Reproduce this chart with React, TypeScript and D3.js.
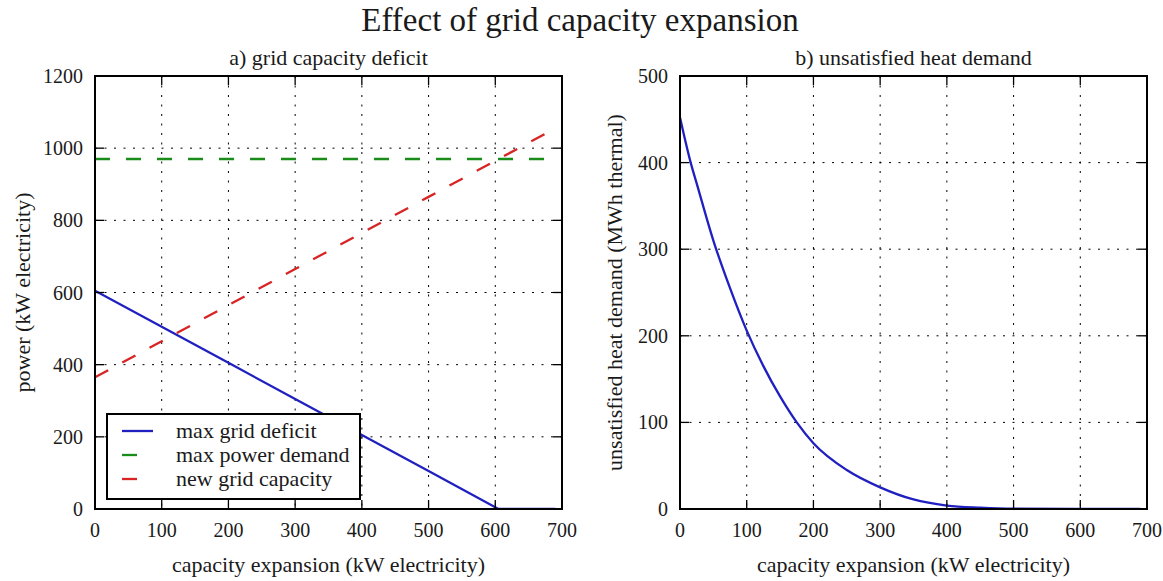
import React from "react";
import * as d3 from "d3";

// ---- data ----
const xTicks = [0, 100, 200, 300, 400, 500, 600, 700];
const powerTicks = [0, 200, 400, 600, 800, 1000, 1200];
const heatTicks = [0, 100, 200, 300, 400, 500];

const deficitX = [0, 100, 200, 300, 400, 500, 600, 605, 690];
const maxGridDeficit = [605, 505, 405, 305, 205, 105, 5, 0, 0];

const demandX = [0, 690];
const maxPowerDemand = [970, 970];

const capacityX = [0, 100, 200, 300, 400, 500, 600, 690];
const newGridCapacity = [365, 465, 565, 665, 765, 865, 965, 1055];

const heatX = [0, 16, 25, 50, 75, 100, 125, 150, 175, 200, 250, 300, 350, 400, 450, 500, 600, 690];
const unsatisfiedHeat = [452, 400, 376, 310, 255, 206, 165, 130, 100, 76, 45, 25, 11, 4, 1.5, 0.3, 0, 0];

const legendLabels = ["max grid deficit", "max power demand", "new grid capacity"];

// ---- styling ----
const W = 1163;
const H = 581;
const FONT = "'Liberation Serif', 'Times New Roman', serif";
const BLUE = "#2020c0";
const GREEN = "#1a8c1a";
const RED = "#d82424";
const DASH = "15 16";
const GRID_DASH = "2 7.5";
const TOP = 76;
const BOTTOM = 509;
const TEXT = "#1a1a1a";

type Series = { xs: number[]; ys: number[]; color: string; dash?: string; smooth?: boolean };

function Panel(props: {
  left: number;
  right: number;
  yMax: number;
  yTicks: number[];
  title: string;
  yLabel: string;
  yLabelX: number;
  series: Series[];
  legend?: boolean;
}) {
  const { left, right, yMax, yTicks, title, yLabel, yLabelX, series, legend } = props;
  const x = d3.scaleLinear().domain([0, 700]).range([left, right]);
  const y = d3.scaleLinear().domain([0, yMax]).range([BOTTOM, TOP]);
  const tickLen = 9;
  const clipId = `clip-${left}`;

  return (
    <g>
      <defs>
        <clipPath id={clipId}>
          <rect x={left} y={TOP} width={right - left} height={BOTTOM - TOP} />
        </clipPath>
      </defs>
      {/* grid */}
      <g stroke="#000" strokeWidth={1} strokeDasharray={GRID_DASH}>
        {xTicks.slice(1, -1).map((t) => (
          <line key={`gx${t}`} x1={x(t)} x2={x(t)} y1={TOP} y2={BOTTOM} />
        ))}
        {yTicks.slice(1, -1).map((t) => (
          <line key={`gy${t}`} x1={left} x2={right} y1={y(t)} y2={y(t)} />
        ))}
      </g>
      {/* data lines */}
      <g clipPath={`url(#${clipId})`}>
        {series.map((s, i) => {
          const pts: [number, number][] = s.xs.map((v, k) => [v, s.ys[k]]);
          const gen = d3
            .line<[number, number]>()
            .x((d) => x(d[0]))
            .y((d) => y(d[1]))
            .curve(s.smooth ? d3.curveMonotoneX : d3.curveLinear);
          return (
            <path
              key={i}
              d={gen(pts) || ""}
              fill="none"
              stroke={s.color}
              strokeWidth={2.3}
              strokeDasharray={s.dash}
            />
          );
        })}
      </g>
      {/* ticks on all four sides, pointing inward */}
      <g stroke="#000" strokeWidth={1.3}>
        {xTicks.map((t) => (
          <g key={`tx${t}`}>
            <line x1={x(t)} x2={x(t)} y1={BOTTOM} y2={BOTTOM - tickLen} />
            <line x1={x(t)} x2={x(t)} y1={TOP} y2={TOP + tickLen} />
          </g>
        ))}
        {yTicks.map((t) => (
          <g key={`ty${t}`}>
            <line x1={left} x2={left + tickLen} y1={y(t)} y2={y(t)} />
            <line x1={right} x2={right - tickLen} y1={y(t)} y2={y(t)} />
          </g>
        ))}
      </g>
      {/* frame */}
      <rect x={left} y={TOP} width={right - left} height={BOTTOM - TOP} fill="none" stroke="#000" strokeWidth={2} />
      {/* tick labels */}
      <g fontFamily={FONT} fontSize={20} fill={TEXT}>
        {xTicks.map((t) => (
          <text key={`lx${t}`} x={x(t)} y={BOTTOM + 28} textAnchor="middle">
            {t}
          </text>
        ))}
        {yTicks.map((t) => (
          <text key={`ly${t}`} x={left - 12} y={y(t) + 7} textAnchor="end">
            {t}
          </text>
        ))}
      </g>
      {/* titles */}
      <text x={(left + right) / 2} y={65} textAnchor="middle" fontFamily={FONT} fontSize={22} fill={TEXT}>
        {title}
      </text>
      <text x={(left + right) / 2} y={572} textAnchor="middle" fontFamily={FONT} fontSize={22} fill={TEXT}>
        capacity expansion (kW electricity)
      </text>
      <text
        transform={`translate(${yLabelX},${(TOP + BOTTOM) / 2}) rotate(-90)`}
        textAnchor="middle"
        fontFamily={FONT}
        fontSize={22}
        fill={TEXT}
      >
        {yLabel}
      </text>
      {legend && (
        <g>
          <rect x={107} y={414} width={253} height={85} fill="#fff" stroke="#000" strokeWidth={2} />
          {series.map((s, i) => (
            <g key={`lg${i}`}>
              <line
                x1={122}
                x2={153}
                y1={431 + i * 24}
                y2={431 + i * 24}
                stroke={s.color}
                strokeWidth={2.3}
                strokeDasharray={s.dash}
              />
              <text x={176} y={438 + i * 24} fontFamily={FONT} fontSize={22} fill={TEXT}>
                {legendLabels[i]}
              </text>
            </g>
          ))}
        </g>
      )}
    </g>
  );
}

export default function App() {
  return (
    <div style={{ position: "fixed", left: 0, top: 0 }}>
      <svg width={W} height={H} style={{ display: "block", background: "#fff" }}>
        <text x={580} y={31} textAnchor="middle" fontFamily={FONT} fontSize={33} fill={TEXT}>
          Effect of grid capacity expansion
        </text>
        <Panel
          left={95}
          right={562}
          yMax={1200}
          yTicks={powerTicks}
          title="a) grid capacity deficit"
          yLabel="power (kW electricity)"
          yLabelX={30}
          legend
          series={[
            { xs: deficitX, ys: maxGridDeficit, color: BLUE },
            { xs: demandX, ys: maxPowerDemand, color: GREEN, dash: DASH },
            { xs: capacityX, ys: newGridCapacity, color: RED, dash: DASH },
          ]}
        />
        <Panel
          left={680}
          right={1147}
          yMax={500}
          yTicks={heatTicks}
          title="b) unsatisfied heat demand"
          yLabel="unsatisfied heat demand (MWh thermal)"
          yLabelX={622}
          series={[{ xs: heatX, ys: unsatisfiedHeat, color: BLUE, smooth: true }]}
        />
      </svg>
    </div>
  );
}
